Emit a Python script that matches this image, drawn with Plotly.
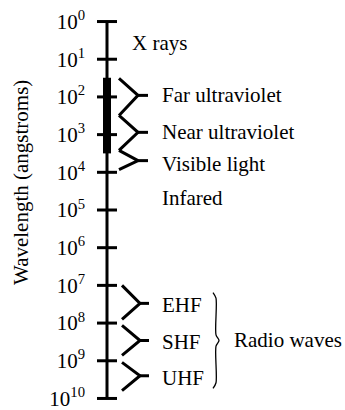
import numpy as np
import plotly.graph_objects as go

# wavelength scale (angstroms), exponents of the decade ticks
decades = list(range(0, 11))
tick_text = [f"10<sup>{k}</sup>" for k in decades]

# heavy part of the scale (UV + visible)
heavy_span = [31, 3150]

# optical bands: top, tip, bottom of each bracket (angstroms)
optical_names = ["Far ultraviolet", "Near ultraviolet", "Visible light"]
optical_top = [32, 310, 2630]
optical_tip = [91, 870, 4900]
optical_bottom = [310, 2630, 8500]
optical_label_at = [91, 870, 5900]

# radio bands
radio_names = ["EHF", "SHF", "UHF"]
radio_top = [1.0e7, 1.15e8, 1.1e9]
radio_tip = [3.0e7, 2.9e8, 2.5e9]
radio_bottom = [8.0e7, 7.2e8, 6.2e9]
radio_label_at = [3.3e7, 3.2e8, 2.8e9]
radio_span = [1.55e7, 5.4e9]

# unbracketed labels
other_names = ["X rays", "Infared"]
other_label_at = [3.6, 49000]

FONT = "Liberation Serif"
LW = 3

fig = go.Figure()

# main vertical scale line
fig.add_trace(go.Scatter(
    x=[0, 0], y=[10 ** decades[0], 10 ** decades[-1]],
    mode="lines", line=dict(color="black", width=LW), hoverinfo="skip",
))
# heavy section
fig.add_trace(go.Scatter(
    x=[0, 0], y=heavy_span,
    mode="lines", line=dict(color="black", width=8), hoverinfo="skip",
))
# decade tick bars crossing the line
tx, ty = [], []
for k in decades:
    tx += [-10, 10, None]
    ty += [10 ** k, 10 ** k, None]
fig.add_trace(go.Scatter(x=tx, y=ty, mode="lines",
                         line=dict(color="black", width=LW), hoverinfo="skip"))


def brackets(tops, tips, bottoms, x_in, x_tip, x_out):
    bx, by = [], []
    for a, m, b in zip(tops, tips, bottoms):
        bx += [x_in, x_tip, x_in, None, x_tip, x_out, None]
        by += [a, m, b, None, m, m, None]
    return bx, by


bx, by = brackets(optical_top, optical_tip, optical_bottom, 12, 31, 41)
fig.add_trace(go.Scatter(x=bx, y=by, mode="lines",
                         line=dict(color="black", width=LW), hoverinfo="skip"))
bx, by = brackets(radio_top, radio_tip, radio_bottom, 15, 33, 42)
fig.add_trace(go.Scatter(x=bx, y=by, mode="lines",
                         line=dict(color="black", width=LW), hoverinfo="skip"))

# curly brace around the radio bands
lo, hi = np.log10(radio_span[0]), np.log10(radio_span[1])
mid = (lo + hi) / 2
cy = [lo, lo + 0.15, mid - 0.15, mid, mid + 0.15, hi - 0.15, hi]
cx = [106, 109, 109, 112, 109, 109, 106]
fig.add_trace(go.Scatter(
    x=cx, y=[10 ** v for v in cy], mode="lines",
    line=dict(color="black", width=1.3, shape="spline", smoothing=0.8),
    hoverinfo="skip",
))

tfont = dict(family=FONT, size=21, color="black")
for name, w in zip(optical_names, optical_label_at):
    fig.add_annotation(x=53, y=np.log10(w), text=name, showarrow=False,
                       xanchor="left", yanchor="middle", font=tfont)
for name, w in zip(radio_names, radio_label_at):
    fig.add_annotation(x=53, y=np.log10(w), text=name, showarrow=False,
                       xanchor="left", yanchor="middle", font=tfont)
fig.add_annotation(x=23, y=np.log10(other_label_at[0]), text=other_names[0],
                   showarrow=False, xanchor="left", yanchor="middle", font=tfont)
fig.add_annotation(x=53, y=np.log10(other_label_at[1]), text=other_names[1],
                   showarrow=False, xanchor="left", yanchor="middle", font=tfont)
fig.add_annotation(x=125, y=mid, text="Radio waves", showarrow=False,
                   xanchor="left", yanchor="middle", font=tfont)

# axis title (paper coords, left of the tick labels)
fig.add_annotation(x=-71 / 253, y=(406 - 183) / 392, xref="paper", yref="paper",
                   xanchor="center", yanchor="middle",
                   text="Wavelength (angstroms)", textangle=-90,
                   showarrow=False, font=tfont)

fig.update_layout(
    width=345, height=410,
    margin=dict(l=92, r=0, t=14, b=4, autoexpand=False),
    paper_bgcolor="white", plot_bgcolor="white",
    showlegend=False, hovermode=False,
    xaxis=dict(visible=False, range=[-15, 238], fixedrange=True, automargin=False),
    yaxis=dict(
        type="log", range=[10.2, -0.2], automargin=False, fixedrange=True,
        tickvals=[10 ** k for k in decades], ticktext=tick_text,
        ticks="", showgrid=False, zeroline=False, showline=False,
        tickfont=dict(family=FONT, size=21, color="black"),
        ticklabelstandoff=6, ticklabeloverflow="allow",
    ),
)

# drop the browser's default 8px body margin so the figure sits at 0,0
fig.write_html("out.html", config={"displayModeBar": False},
               post_script="document.body.style.margin='0';")
